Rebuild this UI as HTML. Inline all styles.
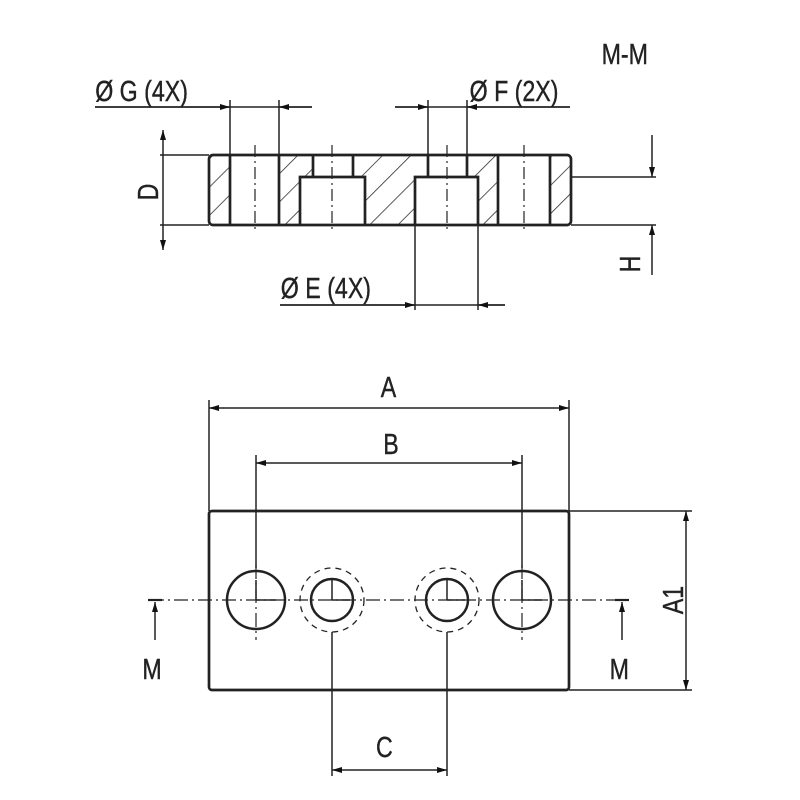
<!DOCTYPE html>
<html><head><style>body{margin:0;background:#fff}svg{display:block}text{font-family:"Liberation Sans",sans-serif;font-size:29px;fill:#222;stroke:#222;stroke-width:0.4}</style></head><body>
<svg width="800" height="800" viewBox="0 0 800 800" xmlns="http://www.w3.org/2000/svg">
<defs>
<marker id="a" viewBox="0 0 10 6" refX="10" refY="3" markerWidth="11" markerHeight="6" orient="auto-start-reverse" markerUnits="userSpaceOnUse"><path d="M0,0L10,3L0,6z" fill="#111"/></marker>
<pattern id="h" patternUnits="userSpaceOnUse" width="20" height="20" patternTransform="rotate(45)"><line x1="0" y1="0" x2="0" y2="20" stroke="#222" stroke-width="1.5"/></pattern>
</defs>
<g stroke="#222" fill="none">
<g fill="url(#h)" stroke="none">
<rect x="209" y="155" width="21" height="70"/>
<path d="M279,155H313V177H300V225H279Z"/>
<path d="M353,155H415V225H365V177H353Z"/>
<path d="M467,155H498V225H478V177H467Z"/>
<rect x="550" y="155" width="21" height="70"/>
</g>
<g stroke-width="2.7">
<rect x="209" y="155" width="362" height="70" rx="4"/>
<line x1="230" y1="155" x2="230" y2="225"/><line x1="279" y1="155" x2="279" y2="225"/>
<path d="M313,155V177H300V225M353,155V177H365V225M300,177H365"/>
<path d="M428,155V177H415V225M467,155V177H478V225M415,177H478"/>
<line x1="498" y1="155" x2="498" y2="225"/><line x1="550" y1="155" x2="550" y2="225"/>
</g>
<g stroke-width="1.2" stroke-dasharray="12,4,2,4">
<line x1="255" y1="145" x2="255" y2="232"/><line x1="332" y1="145" x2="332" y2="232"/>
<line x1="447" y1="145" x2="447" y2="232"/><line x1="524" y1="145" x2="524" y2="232"/>
</g>
<g stroke-width="1.5">
<line x1="95" y1="107" x2="312" y2="107"/>
<line x1="95" y1="107" x2="230" y2="107" marker-end="url(#a)"/>
<line x1="312" y1="107" x2="279" y2="107" marker-end="url(#a)"/>
<line x1="230" y1="100" x2="230" y2="155"/><line x1="279" y1="100" x2="279" y2="155"/>
<line x1="395" y1="107" x2="570" y2="107"/>
<line x1="395" y1="107" x2="428" y2="107" marker-end="url(#a)"/>
<line x1="570" y1="107" x2="467" y2="107" marker-end="url(#a)"/>
<line x1="428" y1="100" x2="428" y2="155"/><line x1="467" y1="100" x2="467" y2="155"/>
<line x1="280" y1="305" x2="505" y2="305"/>
<line x1="280" y1="305" x2="415" y2="305" marker-end="url(#a)"/>
<line x1="505" y1="305" x2="478" y2="305" marker-end="url(#a)"/>
<line x1="415" y1="225" x2="415" y2="310"/><line x1="478" y1="225" x2="478" y2="310"/>
<line x1="163" y1="130" x2="163" y2="250" marker-start="url(#a)" marker-end="url(#a)"/>
<line x1="160" y1="155" x2="209" y2="155"/><line x1="160" y1="225" x2="209" y2="225"/>
<line x1="571" y1="177" x2="656" y2="177"/><line x1="571" y1="225" x2="656" y2="225"/>
<line x1="652" y1="135" x2="652" y2="177" marker-end="url(#a)"/>
<line x1="652" y1="275" x2="652" y2="225" marker-end="url(#a)"/>
</g>
<rect x="209" y="511" width="360" height="179" rx="3" stroke-width="2.7"/>
<g stroke-width="2.5">
<circle cx="256" cy="600" r="29"/><circle cx="332" cy="600" r="21"/>
<circle cx="447" cy="600" r="21"/><circle cx="522" cy="600" r="29"/>
</g>
<g stroke-width="1.3" stroke-dasharray="6,5">
<circle cx="332" cy="600" r="32"/><circle cx="447" cy="600" r="32"/>
</g>
<g stroke-width="1.2" stroke-dasharray="14,4,2,4">
<line x1="150" y1="600" x2="630" y2="600"/>
<line x1="256" y1="565" x2="256" y2="640"/><line x1="522" y1="565" x2="522" y2="640"/>
</g>
<g stroke-width="1.5">
<path d="M256,600H276M256,600V580M332,600H350M332,600V580M447,600H465M447,600V580M522,600H542M522,600V580"/>
<line x1="209" y1="400" x2="209" y2="511"/><line x1="569" y1="400" x2="569" y2="511"/>
<line x1="209" y1="408" x2="569" y2="408" marker-start="url(#a)" marker-end="url(#a)"/>
<line x1="256" y1="455" x2="256" y2="568"/><line x1="522" y1="455" x2="522" y2="568"/>
<line x1="256" y1="463" x2="522" y2="463" marker-start="url(#a)" marker-end="url(#a)"/>
<line x1="332" y1="632" x2="332" y2="776"/><line x1="447" y1="632" x2="447" y2="776"/>
<line x1="332" y1="770" x2="447" y2="770" marker-start="url(#a)" marker-end="url(#a)"/>
<line x1="569" y1="511" x2="692" y2="511"/><line x1="569" y1="690" x2="692" y2="690"/>
<line x1="686" y1="511" x2="686" y2="690" marker-start="url(#a)" marker-end="url(#a)"/>
<line x1="148" y1="600" x2="162" y2="600" stroke-width="2.2"/>
<line x1="155" y1="640" x2="155" y2="602" marker-end="url(#a)"/>
<line x1="615" y1="600" x2="629" y2="600" stroke-width="2.2"/>
<line x1="622" y1="640" x2="622" y2="602" marker-end="url(#a)"/>
</g>
</g>
<g transform="scale(0.8,1)">
<text x="119" y="101">Ø G (4X)</text>
<text x="587" y="101">Ø F (2X)</text>
<text x="351" y="298">Ø E (4X)</text>
<text x="752" y="64">M-M</text>
<text x="476" y="397">A</text>
<text x="479" y="454">B</text>
<text x="470" y="757">C</text>
<text x="178" y="679">M</text>
<text x="762" y="679">M</text>
</g>
<text transform="translate(158,192) rotate(-90) scale(0.8,1)" text-anchor="middle">D</text>
<text transform="translate(640,264) rotate(-90) scale(0.8,1)" text-anchor="middle">H</text>
<text transform="translate(683,600) rotate(-90) scale(0.8,1)" text-anchor="middle">A1</text>
</svg>
</body></html>
